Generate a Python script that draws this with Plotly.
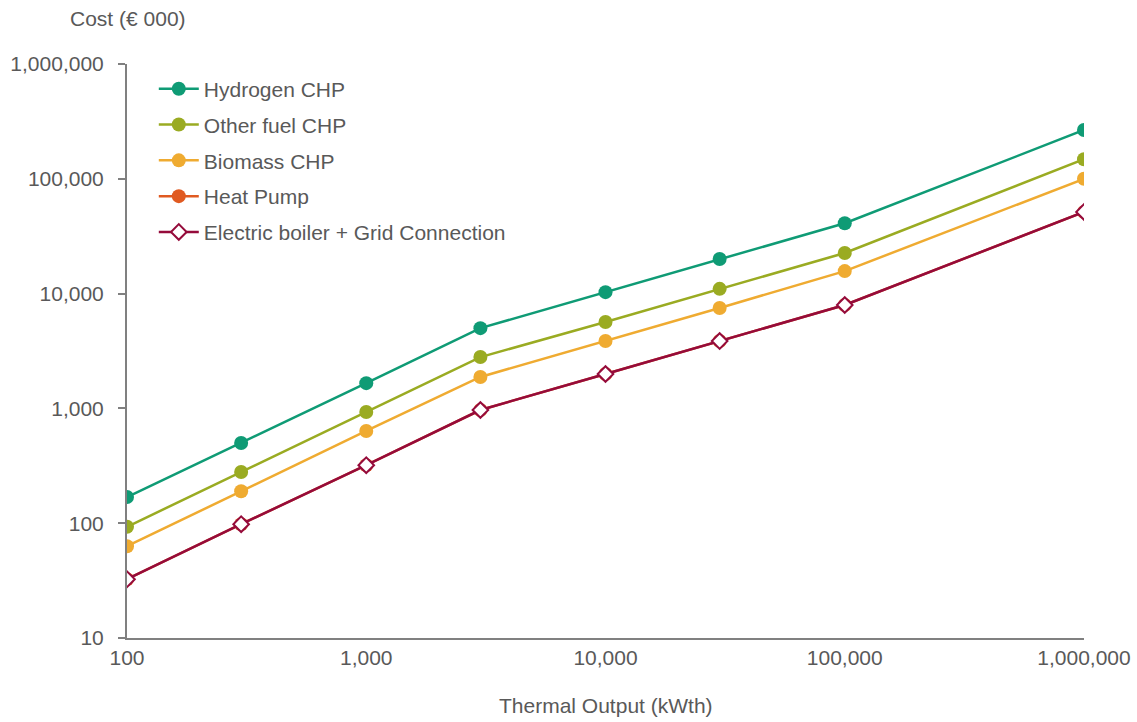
import plotly.graph_objects as go

x_output = [100, 300, 1000, 3000, 10000, 30000, 100000, 1000000]
hydrogen_chp = [169, 500, 1660, 5000, 10300, 20000, 41000, 266000]
other_fuel_chp = [93, 279, 930, 2800, 5660, 11000, 22600, 148000]
biomass_chp = [63, 190, 636, 1880, 3860, 7500, 15700, 100000]
heat_pump = [32.5, 98, 320, 968, 1995, 3860, 7960, 51400]
electric_boiler = [32.5, 98, 320, 968, 1995, 3860, 7960, 51400]

x_ticks = [100, 1000, 10000, 100000, 1000000]
x_tick_labels = ["100", "1,000", "10,000", "100,000", "1,000,000"]
y_ticks = [10, 100, 1000, 10000, 100000, 1000000]
y_tick_labels = ["10", "100", "1,000", "10,000", "100,000", "1,000,000"]

FONT = "Liberation Sans, Arial, sans-serif"
TXT = "#595959"
FS = 21

fig = go.Figure()
series = [
    ("Hydrogen CHP", hydrogen_chp, "#0f9b75", dict(symbol="circle", size=14, color="#0f9b75")),
    ("Other fuel CHP", other_fuel_chp, "#9aab22", dict(symbol="circle", size=14, color="#9aab22")),
    ("Biomass CHP", biomass_chp, "#efab31", dict(symbol="circle", size=14, color="#efab31")),
    ("Heat Pump", heat_pump, "#e05a21", dict(symbol="circle", size=14, color="#e05a21")),
    ("Electric boiler + Grid Connection", electric_boiler, "#950b3b",
     dict(symbol="diamond", size=12, color="white", line=dict(color="#950b3b", width=2))),
]
for name, ys, col, mk in series:
    fig.add_trace(go.Scatter(x=x_output, y=ys, name=name, legendgroup=name,
                             mode="lines+markers",
                             line=dict(color=col, width=2.5), marker=mk))

fig.update_layout(
    width=1137, height=722,
    margin=dict(l=127, r=53, t=64, b=84, autoexpand=False),
    paper_bgcolor="white", plot_bgcolor="white",
    font=dict(family=FONT, size=FS, color=TXT),
    showlegend=True,
    legend=dict(x=0.028, y=0.992, xanchor="left", yanchor="top",
                font=dict(size=FS, color=TXT), bgcolor="rgba(0,0,0,0)",
                tracegroupgap=5.5, itemwidth=40),
    xaxis=dict(type="log", range=[2, 6], tickvals=x_ticks, ticktext=x_tick_labels,
               showgrid=False, zeroline=False, showline=True, linecolor="#808080",
               linewidth=2, ticks="", tickfont=dict(size=FS, color=TXT), automargin=False),
    yaxis=dict(type="log", range=[1, 6], tickvals=y_ticks, ticktext=y_tick_labels,
               showgrid=False, zeroline=False, showline=True, linecolor="#808080",
               linewidth=2, ticks="outside", ticklen=7, tickcolor="#808080", tickwidth=2,
               ticklabelstandoff=10, automargin=False,
               tickfont=dict(size=FS, color=TXT)),
    annotations=[
        dict(text="Cost (€ 000)", xref="paper", yref="paper", x=-0.0617, y=1.080,
             xanchor="left", yanchor="middle", showarrow=False,
             font=dict(size=FS, color=TXT)),
        dict(text="Thermal Output (kWth)", xref="paper", yref="paper", x=0.5, y=-0.118,
             xanchor="center", yanchor="middle", showarrow=False,
             font=dict(size=FS, color=TXT)),
    ],
)

fig.write_html("out.html")
